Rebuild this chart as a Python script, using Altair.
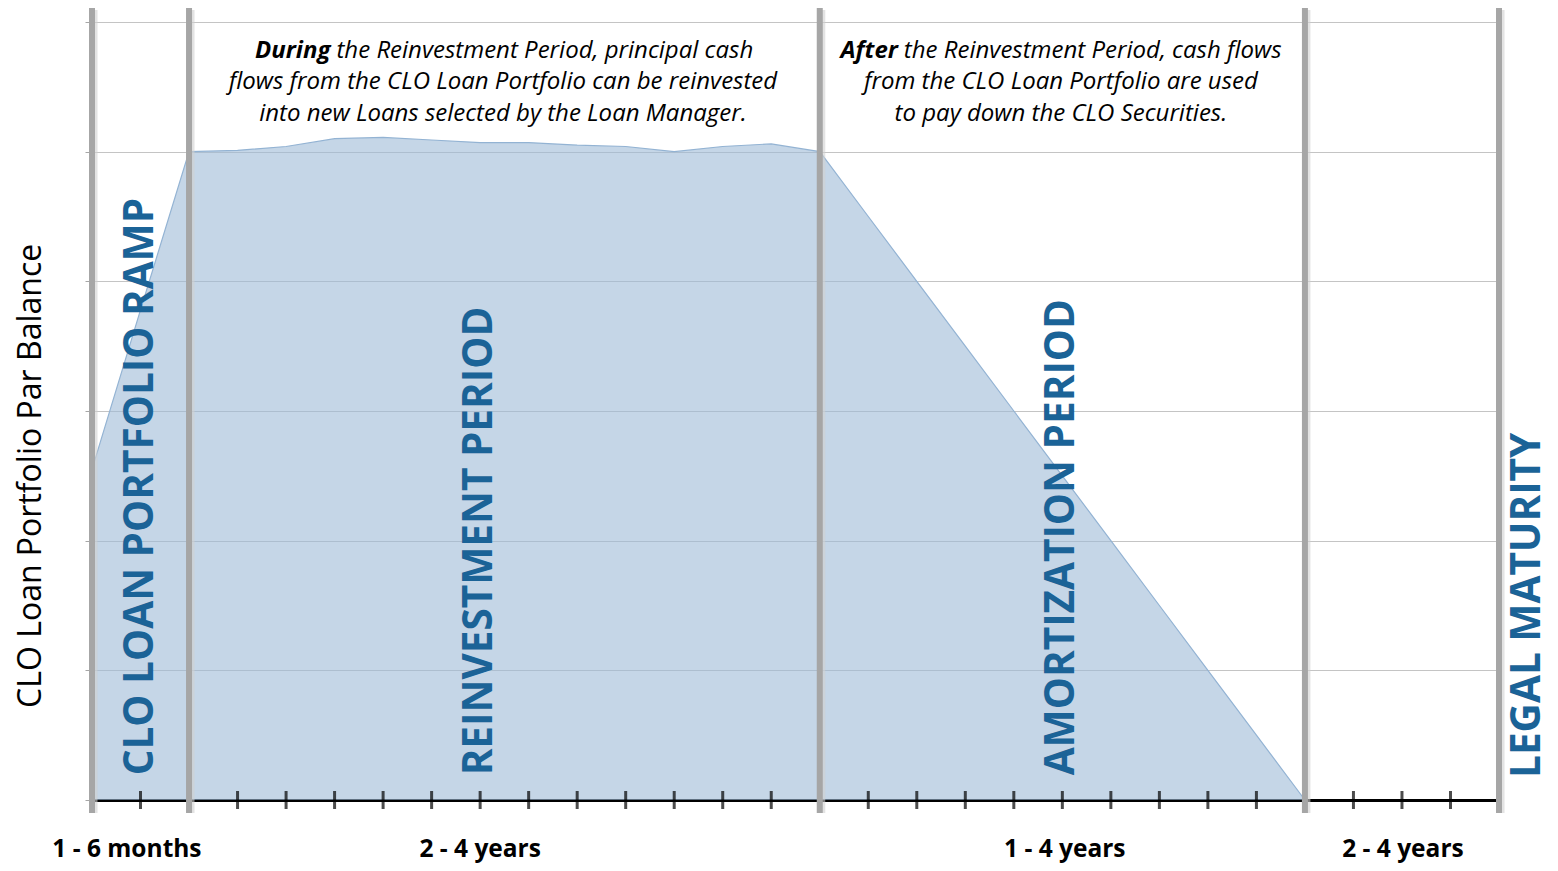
import altair as alt
import pandas as pd

# ---- data ----
par_x = list(range(0, 26))
par_y = [2.55, 3.78, 5.0, 5.01, 5.04, 5.1, 5.11, 5.09, 5.07, 5.07, 5.05, 5.04, 5.0,
         5.04, 5.06, 5.0, 4.5, 4.0, 3.5, 3.0, 2.5, 2.0, 1.5, 1.0, 0.5, 0.0]
boundary_x = [0, 2, 15, 25, 29]
tick_x = list(range(0, 30))
grid_y = [0, 1, 2, 3, 4, 5, 6]

period_names = ["CLO LOAN PORTFOLIO RAMP", "REINVESTMENT PERIOD", "AMORTIZATION PERIOD", "LEGAL MATURITY"]
period_x = [1.0, 8.0, 20.0, 29.59]
period_y = [0.19, 0.19, 0.19, 0.17]

dur_labels = ["1 - 6 months", "2 - 4 years", "1 - 4 years", "2 - 4 years"]
dur_x = [0.72, 8.0, 20.05, 27.02]
dur_y = [-0.385, -0.385, -0.385, -0.385]

note1_lines = ["flows from the CLO Loan Portfolio can be reinvested",
               "into new Loans selected by the Loan Manager."]
note2_lines = ["from the CLO Loan Portfolio are used",
               "to pay down the CLO Securities."]
note_y = [5.78, 5.535, 5.29]
note1_x = 8.47
note2_x = 19.97
bold_words = ["During", "After"]
bold_rest = ["the Reinvestment Period, principal cash", "the Reinvestment Period, cash flows"]
bold_split_x = [4.915, 16.61]

ytitle = "CLO Loan Portfolio Par Balance"

# ---- tables ----
area_df = pd.DataFrame({"x": par_x, "y": par_y})
bound_df = pd.DataFrame({"x": boundary_x})
tick_df = pd.DataFrame({"x": tick_x, "y": [0] * len(tick_x)})
period_df = pd.DataFrame({"name": period_names, "x": period_x, "y": period_y})
dur_df = pd.DataFrame({"label": dur_labels, "x": dur_x, "y": dur_y})
notes_df = pd.DataFrame({
    "text": note1_lines + note2_lines,
    "x": [note1_x] * 2 + [note2_x] * 2,
    "y": note_y[1:] + note_y[1:],
})
bold_df = pd.DataFrame({"w": bold_words, "r": bold_rest, "x": bold_split_x, "y": [note_y[0]] * 2})
ytitle_df = pd.DataFrame({"t": [ytitle], "x": [-1.25], "y": [2.5]})

xs = alt.Scale(domain=[0, 29], nice=False, zero=False)
ys = alt.Scale(domain=[0, 6], nice=False, zero=False)

FONT = "Open Sans"
BLUE = "#1b6397"
NOTE_SIZE = 24

base_axes = alt.Chart(area_df).mark_area(
    color="#9ebbd7", opacity=0.6, line={"color": "#93b3d3", "strokeWidth": 1.2}
).encode(
    x=alt.X("x:Q", scale=xs, axis=alt.Axis(
        title=None, labels=False, ticks=False, grid=False,
        domain=True, domainColor="black", domainWidth=3)),
    y=alt.Y("y:Q", scale=ys, axis=alt.Axis(
        title=None, labels=False, values=grid_y, ticks=True, tickSize=7,
        tickColor="#a6a6a6", grid=True, gridColor="#c4c4c4", gridWidth=1.2,
        domain=False)),
)

ticks = alt.Chart(tick_df).mark_tick(color="black", thickness=3, size=18, orient="vertical").encode(
    x=alt.X("x:Q", scale=xs), y=alt.Y("y:Q", scale=ys)
)

shadow = alt.Chart(bound_df).mark_rule(color="#d0d0d0", strokeWidth=5, opacity=0.6, xOffset=3, yOffset=3).encode(
    x=alt.X("x:Q", scale=xs), y=alt.value(-15), y2=alt.value(791)
)
bounds = alt.Chart(bound_df).mark_rule(color="#a6a6a6", strokeWidth=6).encode(
    x=alt.X("x:Q", scale=xs), y=alt.value(-15), y2=alt.value(791)
)

period_text = alt.Chart(period_df).mark_text(
    angle=270, align="left", baseline="middle", font=FONT, fontWeight="bold",
    fontSize=40.5, color=BLUE
).encode(x=alt.X("x:Q", scale=xs), y=alt.Y("y:Q", scale=ys), text="name:N")

dur_text = alt.Chart(dur_df).mark_text(
    align="center", baseline="middle", font=FONT, fontWeight="bold", fontSize=24.5, color="black"
).encode(x=alt.X("x:Q", scale=xs), y=alt.Y("y:Q", scale=ys), text="label:N")

notes = alt.Chart(notes_df).mark_text(
    align="center", baseline="middle", font=FONT, fontStyle="italic", fontSize=NOTE_SIZE, color="black"
).encode(x=alt.X("x:Q", scale=xs), y=alt.Y("y:Q", scale=ys), text="text:N")

bold_w = alt.Chart(bold_df).mark_text(
    align="right", baseline="middle", font=FONT, fontStyle="italic", fontWeight="bold",
    fontSize=NOTE_SIZE, color="black"
).encode(x=alt.X("x:Q", scale=xs), y=alt.Y("y:Q", scale=ys), text="w:N")

bold_r = alt.Chart(bold_df).mark_text(
    align="left", baseline="middle", font=FONT, fontStyle="italic", dx=6,
    fontSize=NOTE_SIZE, color="black"
).encode(x=alt.X("x:Q", scale=xs), y=alt.Y("y:Q", scale=ys), text="r:N")

ytitle_text = alt.Chart(ytitle_df).mark_text(
    angle=270, align="center", baseline="middle", font=FONT, fontSize=32, color="black"
).encode(x=alt.X("x:Q", scale=xs), y=alt.Y("y:Q", scale=ys), text="t:N")

chart = alt.layer(
    base_axes, ticks, shadow, bounds, period_text, dur_text, notes, bold_w, bold_r, ytitle_text
).properties(
    width=1407, height=778,
    autosize=alt.AutoSizeParams(type="none"),
    padding={"left": 84, "top": 14, "right": 50, "bottom": 63},
).configure_view(stroke=None).configure(background="white")

chart.save("out.html", embed_options={"renderer": "svg", "actions": False})
